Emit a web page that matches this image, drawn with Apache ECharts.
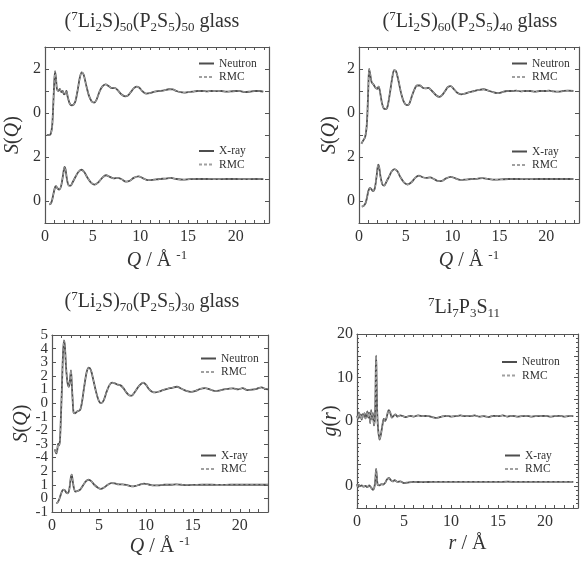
<!DOCTYPE html>
<html><head><meta charset="utf-8">
<script src="https://cdn.jsdelivr.net/npm/echarts@6/dist/echarts.min.js"></script>
<style>html,body{margin:0;padding:0;background:#fff}#c{width:582px;height:564px}</style>
</head><body><div id="c"></div>
<script>
// ---------- DATA ----------
// Panel 1: (7Li2S)50(P2S5)50 glass, S(Q)
const neutron50 = [[0.2,-1.0],[0.4,-1.0],[0.6,-0.95],[0.75,-0.6],[0.85,0.2],[0.95,1.2],[1.05,1.9],[1.15,1.6],[1.25,1.1],[1.4,1.0],[1.55,1.1],[1.7,0.95],[1.85,1.0],[2.0,0.85],[2.15,0.9],[2.25,1.0],[2.4,0.7],[2.6,0.42],[2.8,0.35],[3.0,0.38],[3.2,0.55],[3.45,1.1],[3.65,1.6],[3.85,1.85],[4.05,1.75],[4.3,1.3],[4.6,0.8],[4.9,0.52],[5.15,0.47],[5.4,0.6],[5.7,0.95],[6.0,1.2],[6.35,1.3],[6.7,1.22],[7.0,1.13],[7.3,1.14],[7.6,1.05],[8.0,0.85],[8.4,0.76],[8.7,0.8],[9.0,0.95],[9.3,1.12],[9.6,1.2],[9.9,1.15],[10.2,1.0],[10.6,0.88],[11.0,0.9],[11.5,0.97],[12.0,1.0],[12.5,1.03],[13.0,1.08],[13.4,1.07],[13.8,1.0],[14.2,0.95],[14.6,0.93],[15.0,0.95],[15.5,0.97],[16.0,1.0],[16.5,1.0],[17.0,0.98],[17.5,1.0],[18.0,0.99],[18.5,1.0],[19.0,0.97],[19.5,0.98],[20.0,1.0],[20.5,0.99],[21.0,0.95],[21.5,0.97],[22.0,1.0],[22.5,1.0],[22.9,0.97]];
const xray50 = [[0.45,-0.15],[0.6,-0.12],[0.75,0.05],[0.9,0.35],[1.05,0.62],[1.15,0.67],[1.3,0.58],[1.5,0.52],[1.7,0.7],[1.9,1.2],[2.05,1.55],[2.15,1.45],[2.3,1.0],[2.5,0.7],[2.7,0.7],[2.9,0.85],[3.2,1.1],[3.5,1.32],[3.8,1.42],[4.1,1.33],[4.4,1.1],[4.8,0.85],[5.2,0.74],[5.6,0.85],[6.0,1.05],[6.4,1.17],[6.8,1.1],[7.2,1.03],[7.6,1.05],[8.0,1.0],[8.5,0.88],[8.9,0.92],[9.3,1.05],[9.8,1.12],[10.3,1.03],[10.8,0.95],[11.3,0.96],[12.0,1.0],[12.6,1.02],[13.2,1.05],[13.8,1.0],[14.5,0.97],[15.2,0.99],[16.0,1.0],[17.0,1.0],[18.0,0.99],[19.0,1.0],[20.0,1.0],[21.0,0.99],[22.0,1.0],[22.9,0.99]];
// Panel 2: (7Li2S)60(P2S5)40 glass, S(Q)
const neutron60 = [[0.25,-1.4],[0.45,-1.25],[0.65,-1.1],[0.8,-0.7],[0.9,0.0],[1.0,1.2],[1.08,2.0],[1.2,1.75],[1.35,1.4],[1.55,1.3],[1.75,1.15],[1.95,1.1],[2.1,1.2],[2.25,0.95],[2.45,0.45],[2.65,0.2],[2.85,0.18],[3.05,0.3],[3.3,0.9],[3.55,1.6],[3.75,1.95],[3.95,1.9],[4.2,1.5],[4.5,0.9],[4.8,0.5],[5.1,0.36],[5.35,0.4],[5.6,0.7],[5.9,1.05],[6.2,1.25],[6.5,1.25],[6.8,1.15],[7.1,1.12],[7.4,1.14],[7.8,1.0],[8.2,0.82],[8.6,0.73],[8.9,0.82],[9.2,1.0],[9.5,1.18],[9.8,1.22],[10.1,1.1],[10.5,0.92],[10.9,0.85],[11.3,0.88],[11.8,0.95],[12.3,1.0],[12.8,1.05],[13.3,1.08],[13.8,1.02],[14.3,0.95],[14.8,0.9],[15.3,0.95],[15.8,1.0],[16.3,1.0],[16.8,1.02],[17.3,0.98],[17.8,1.0],[18.3,1.0],[18.8,0.97],[19.3,1.0],[19.8,1.0],[20.3,1.02],[20.8,0.98],[21.3,0.97],[21.8,1.0],[22.3,1.02],[22.9,1.0]];
const xray60 = [[0.3,-0.25],[0.5,-0.22],[0.7,-0.1],[0.85,0.15],[1.0,0.45],[1.15,0.6],[1.3,0.55],[1.5,0.45],[1.7,0.6],[1.9,1.2],[2.05,1.65],[2.15,1.55],[2.3,1.1],[2.5,0.75],[2.7,0.7],[2.9,0.85],[3.2,1.1],[3.5,1.35],[3.8,1.45],[4.1,1.35],[4.4,1.1],[4.8,0.85],[5.2,0.75],[5.6,0.85],[6.0,1.05],[6.4,1.15],[6.8,1.08],[7.2,1.05],[7.6,1.07],[8.0,1.0],[8.5,0.9],[8.9,0.92],[9.3,1.03],[9.8,1.1],[10.3,1.03],[10.8,0.96],[11.3,0.97],[12.0,1.0],[12.6,1.01],[13.2,1.04],[13.8,1.0],[14.5,0.97],[15.2,0.98],[16.0,1.0],[17.0,1.0],[18.0,0.99],[19.0,1.0],[20.0,1.0],[21.0,1.0],[22.0,1.0],[22.9,1.0]];
// Panel 3: (7Li2S)70(P2S5)30 glass, S(Q)
const neutron70 = [[0.3,-3.4],[0.45,-3.7],[0.55,-3.5],[0.65,-3.0],[0.75,-3.1],[0.85,-2.7],[0.95,-1.0],[1.05,1.0],[1.15,3.2],[1.27,4.6],[1.37,4.2],[1.5,2.6],[1.65,1.5],[1.8,1.2],[1.9,1.6],[2.02,2.4],[2.1,1.5],[2.2,0.2],[2.3,-0.7],[2.45,-0.75],[2.7,-0.6],[3.0,-0.5],[3.2,0.1],[3.45,1.3],[3.7,2.3],[3.92,2.6],[4.15,2.4],[4.4,1.7],[4.7,0.8],[5.0,0.15],[5.25,0.0],[5.5,0.2],[5.8,0.8],[6.1,1.3],[6.4,1.5],[6.7,1.45],[7.0,1.35],[7.3,1.3],[7.6,1.1],[7.9,0.8],[8.2,0.58],[8.5,0.55],[8.8,0.8],[9.1,1.1],[9.4,1.35],[9.7,1.5],[10.0,1.35],[10.3,1.05],[10.7,0.82],[11.0,0.78],[11.4,0.85],[11.8,0.95],[12.3,1.05],[12.8,1.12],[13.3,1.2],[13.8,1.05],[14.3,0.9],[14.8,0.82],[15.3,0.9],[15.8,1.05],[16.3,1.1],[16.8,1.0],[17.3,0.9],[17.8,0.92],[18.3,1.0],[18.8,1.05],[19.3,1.08],[19.8,1.0],[20.3,1.1],[20.8,0.95],[21.3,0.98],[21.8,1.05],[22.3,1.15],[22.7,1.05],[23.0,1.0]];
const xray70 = [[0.45,-0.35],[0.6,-0.3],[0.75,-0.1],[0.9,0.2],[1.05,0.5],[1.2,0.65],[1.35,0.6],[1.55,0.4],[1.7,0.37],[1.85,0.7],[2.0,1.5],[2.1,1.75],[2.2,1.3],[2.35,0.7],[2.5,0.5],[2.75,0.55],[3.0,0.65],[3.3,0.95],[3.6,1.25],[3.9,1.37],[4.2,1.25],[4.5,1.0],[4.9,0.78],[5.2,0.7],[5.5,0.78],[5.9,0.98],[6.3,1.12],[6.7,1.1],[7.1,1.03],[7.5,1.03],[8.0,0.97],[8.5,0.88],[8.9,0.92],[9.3,1.0],[9.8,1.08],[10.3,1.02],[10.8,0.95],[11.3,0.96],[12.0,1.0],[12.6,1.0],[13.2,1.03],[13.8,1.0],[14.5,0.98],[15.2,0.99],[16.0,1.0],[17.0,1.0],[18.0,0.99],[19.0,1.0],[20.0,1.0],[21.0,1.0],[22.0,1.0],[23.0,1.0]];
// Panel 4: 7Li7P3S11, g(r)
const neutronLPS = [[0.0,1.2],[0.1,0.5],[0.2,2.0],[0.3,0.8],[0.4,1.5],[0.5,0.3],[0.6,1.6],[0.7,1.0],[0.8,1.8],[0.9,0.6],[1.0,1.4],[1.1,2.2],[1.2,0.8],[1.3,1.9],[1.4,-0.5],[1.5,2.5],[1.6,0.5],[1.7,1.8],[1.8,-1.0],[1.9,0.5],[1.95,4.0],[2.0,12.0],[2.04,15.0],[2.08,10.0],[2.15,2.0],[2.25,-2.0],[2.4,-4.3],[2.55,-3.0],[2.7,-1.0],[2.85,0.5],[3.0,0.0],[3.15,0.8],[3.3,2.2],[3.4,2.5],[3.55,1.8],[3.7,0.8],[3.9,1.2],[4.1,1.5],[4.3,1.0],[4.6,1.3],[4.9,1.1],[5.2,0.9],[5.6,1.2],[6.0,1.0],[6.5,1.3],[7.0,1.1],[7.5,1.2],[8.0,0.9],[8.5,0.7],[9.0,1.0],[9.5,1.2],[10.0,1.0],[10.5,1.1],[11.0,1.3],[11.5,1.1],[12.0,1.1],[12.5,1.3],[13.0,1.0],[13.5,1.1],[14.0,0.9],[14.5,1.2],[15.0,1.1],[15.5,1.3],[16.0,1.0],[16.5,1.2],[17.0,1.0],[17.5,1.1],[18.0,1.2],[18.5,1.0],[19.0,1.1],[19.5,1.1],[20.0,1.2],[20.5,1.0],[21.0,1.1],[21.5,1.2],[22.0,1.0],[22.5,1.1],[23.0,1.1]];
const xrayLPS = [[0.0,0.5],[0.1,-0.2],[0.2,0.3],[0.3,0.0],[0.5,0.2],[0.7,-0.1],[0.9,0.1],[1.1,-0.2],[1.3,0.2],[1.5,-0.3],[1.7,-0.8],[1.85,-0.2],[1.95,1.5],[2.03,4.0],[2.1,2.5],[2.2,0.3],[2.4,0.2],[2.6,0.5],[2.8,0.4],[3.0,0.8],[3.2,1.6],[3.4,1.9],[3.6,1.4],[3.8,1.1],[4.0,1.4],[4.3,1.0],[4.6,1.1],[5.0,0.7],[5.5,0.9],[6.0,1.0],[7.0,0.95],[8.0,1.0],[9.0,1.0],[10.0,1.0],[11.0,1.0],[12.0,1.0],[13.0,1.0],[14.0,1.0],[15.0,1.0],[16.0,1.05],[17.0,1.0],[18.0,1.0],[19.0,1.0],[20.0,1.0],[21.0,1.0],[22.0,1.0],[23.0,1.0]];

// Tick labels shown on the y axes (lower block = X-ray, upper block = neutron)
const sqLowerTicks = [0, 2];
const sqUpperTicks = [0, 2];
const sq70LowerTicks = [-1, 0, 1, 2];
const sq70UpperTicks = [-4, -3, -2, -1, 0, 1, 2, 3, 4, 5];
const grLowerTicks = [0];
const grUpperTicks = [0, 10, 20];
const xTicks = [0, 5, 10, 15, 20];

// ---------- STYLE / LAYOUT ----------
const FONT = '"Liberation Serif","Times New Roman",serif';
const TXT = '#333';
const AX = '#555';
const sub = {fontSize: 13, fontFamily: FONT, color: TXT, verticalAlign: 'bottom', lineHeight: 13};
const sup = {fontSize: 13, fontFamily: FONT, color: TXT, verticalAlign: 'top', lineHeight: 13};
const ital = {fontStyle: 'italic', fontSize: 20, fontFamily: FONT, color: TXT};

const panels = [
  {title: '(' + '{sup|7}Li{sub|2}S){sub|50}(P{sub|2}S{sub|5}){sub|50} glass', tx: 152, ty: 10,
   grid: {left: 45, top: 47, width: 224, height: 176}, xMax: 23.5, yMin: -1, yMax: 7, yInt: 1, yMinor: 0,
   offset: 4, split: 2.5, lower: sqLowerTicks, upper: sqUpperTicks, meas: neutron50, xr: xray50,
   xName: '{i|Q} / Å {sup|-1}', yName: '{i|S}({i|Q})', yGap: 22, xGap: 26, yFont: 16,
   leg1: {left: 198, top: 57}, leg2: {left: 198, top: 144.5}},
  {title: '(' + '{sup|7}Li{sub|2}S){sub|60}(P{sub|2}S{sub|5}){sub|40} glass', tx: 470, ty: 10,
   grid: {left: 359, top: 47, width: 220, height: 176}, xMax: 23.5, yMin: -1, yMax: 7, yInt: 1, yMinor: 0,
   offset: 4, split: 2.5, lower: sqLowerTicks, upper: sqUpperTicks, meas: neutron60, xr: xray60,
   xName: '{i|Q} / Å {sup|-1}', yName: '{i|S}({i|Q})', yGap: 19, xGap: 26, yFont: 16,
   leg1: {left: 511, top: 57}, leg2: {left: 511, top: 145}},
  {title: '(' + '{sup|7}Li{sub|2}S){sub|70}(P{sub|2}S{sub|5}){sub|30} glass', tx: 152, ty: 290,
   grid: {left: 52, top: 335, width: 216, height: 177}, xMax: 23, yMin: -1, yMax: 12, yInt: 1, yMinor: 0,
   offset: 7, split: 2.5, lower: sq70LowerTicks, upper: sq70UpperTicks, meas: neutron70, xr: xray70,
   xName: '{i|Q} / Å {sup|-1}', yName: '{i|S}({i|Q})', yGap: 20, xGap: 22, yFont: 15,
   leg1: {left: 200, top: 352}, leg2: {left: 200, top: 449}},
  {title: '{sup|7}Li{sub|7}P{sub|3}S{sub|11}', tx: 464, ty: 296,
   grid: {left: 357, top: 334, width: 221, height: 174}, xMax: 23.5, yMin: -5, yMax: 35, yInt: 5, yMinor: 5,
   offset: 15, split: 7.5, lower: grLowerTicks, upper: grUpperTicks, meas: neutronLPS, xr: xrayLPS,
   xName: '{i|r} / Å', yName: '{i|g}({i|r})', yGap: 12, xGap: 24, yFont: 16,
   leg1: {left: 501, top: 355.5}, leg2: {left: 504, top: 449}}
];

const option = {
  backgroundColor: '#fff',
  animation: false,
  title: [], grid: [], xAxis: [], yAxis: [], series: [], legend: []
};

const lineDef = {type: 'line', showSymbol: false, symbol: 'none', smooth: 0.3, z: 3};

panels.forEach((p, i) => {
  option.title.push({
    text: p.title, left: p.tx, top: p.ty, textAlign: 'center', padding: 0,
    textStyle: {fontSize: 20, fontWeight: 'normal', fontFamily: FONT, color: TXT, lineHeight: 24,
      rich: {sub: sub, sup: sup}}
  });
  option.grid.push(Object.assign({containLabel: false}, p.grid));
  const xCommon = {
    type: 'value', gridIndex: i, min: 0, max: p.xMax, interval: 1,
    axisLine: {onZero: false, lineStyle: {color: AX, width: 1.2}},
    axisTick: {inside: true, length: 3, lineStyle: {color: AX}},
    splitLine: {show: false}
  };
  option.xAxis.push(Object.assign({}, xCommon, {
    position: 'bottom',
    axisLabel: {fontSize: 16, fontFamily: FONT, color: TXT, margin: 6,
      formatter: v => (xTicks.indexOf(v) >= 0 ? String(v) : '')},
    name: p.xName, nameLocation: 'middle', nameGap: p.xGap,
    nameTextStyle: {fontSize: 20, fontFamily: FONT, color: TXT, lineHeight: 24,
      rich: {i: ital, sup: sup}}
  }));
  option.xAxis.push(Object.assign({}, xCommon, {position: 'top', axisLabel: {show: false}}));

  // y tick label text for a display value
  const labelText = v => {
    if (v > p.split) { const t = Math.round(v - p.offset); return p.upper.indexOf(t) >= 0 ? String(t) : ''; }
    return p.lower.indexOf(v) >= 0 ? String(v) : '';
  };
  const kOf = v => Math.round((v - p.yMin) / p.yInt);
  // labels are split over two left axes (odd / even ticks) so that tightly packed labels are all drawn
  const fmtA = v => (kOf(v) % 2 === 1 ? labelText(v) : '');
  const fmtB = v => (kOf(v) % 2 === 0 ? labelText(v) : '');
  const yCommon = {
    type: 'value', gridIndex: i, min: p.yMin, max: p.yMax, interval: p.yInt,
    axisLine: {onZero: false, lineStyle: {color: AX, width: 1.2}},
    axisTick: {inside: true, length: 4, lineStyle: {color: AX}},
    minorTick: {show: p.yMinor > 0, splitNumber: p.yMinor || 5, length: 2, lineStyle: {color: AX}},
    splitLine: {show: false}
  };
  const lab = (fmt) => ({fontSize: p.yFont, fontFamily: FONT, color: TXT, margin: 4,
      showMinLabel: fmt(p.yMin) ? true : null, showMaxLabel: fmt(p.yMax) ? true : null,
      formatter: fmt});
  option.yAxis.push(Object.assign({}, yCommon, {
    position: 'left', axisLabel: lab(fmtA),
    name: p.yName, nameLocation: 'middle', nameGap: p.yGap,
    nameTextStyle: {fontSize: 20, fontFamily: FONT, color: TXT, rich: {i: ital}}
  }));
  option.yAxis.push(Object.assign({}, yCommon, {position: 'right', axisLabel: {show: false}}));
  option.yAxis.push(Object.assign({}, yCommon, {position: 'left', axisLabel: lab(fmtB),
    axisLine: {show: false, onZero: false}, axisTick: {show: false}, minorTick: {show: false}}));

  const shift = arr => arr.map(d => [d[0], d[1] + p.offset]);
  const solid = {color: '#4d4d4d', width: 1.8, type: 'solid'};
  const dash = {color: '#a0a0a0', width: 1.1, type: [3, 2]};
  const ax = {xAxisIndex: 2*i, yAxisIndex: 3*i};
  option.series.push(Object.assign({}, lineDef, ax, {name: 'Neutron',
    data: shift(p.meas), lineStyle: solid, itemStyle: {color: '#4d4d4d'}}));
  option.series.push(Object.assign({}, lineDef, ax, {name: 'RMC',
    data: shift(p.meas), lineStyle: dash, itemStyle: {color: '#a0a0a0'}, z: 4}));
  option.series.push(Object.assign({}, lineDef, ax, {name: 'X-ray',
    data: p.xr.map(d => [d[0], d[1]]), lineStyle: solid, itemStyle: {color: '#4d4d4d'}}));
  option.series.push(Object.assign({}, lineDef, ax, {name: 'RMC',
    data: p.xr.map(d => [d[0], d[1]]), lineStyle: dash, itemStyle: {color: '#a0a0a0'}, z: 4}));

  const legBase = {orient: 'vertical', padding: 0, itemGap: 0.5, itemWidth: 15, itemHeight: 8,
    selectedMode: false, itemStyle: {opacity: 0},
    textStyle: {fontSize: 11.5, fontFamily: FONT, color: TXT, lineHeight: 13}};
  option.legend.push(Object.assign({}, legBase, p.leg1, {data: ['Neutron', 'RMC']}));
  option.legend.push(Object.assign({}, legBase, p.leg2, {data: ['X-ray', 'RMC']}));
});

const chart = echarts.init(document.getElementById('c'), null, {renderer: 'canvas'});
chart.setOption(option);
</script></body></html>
